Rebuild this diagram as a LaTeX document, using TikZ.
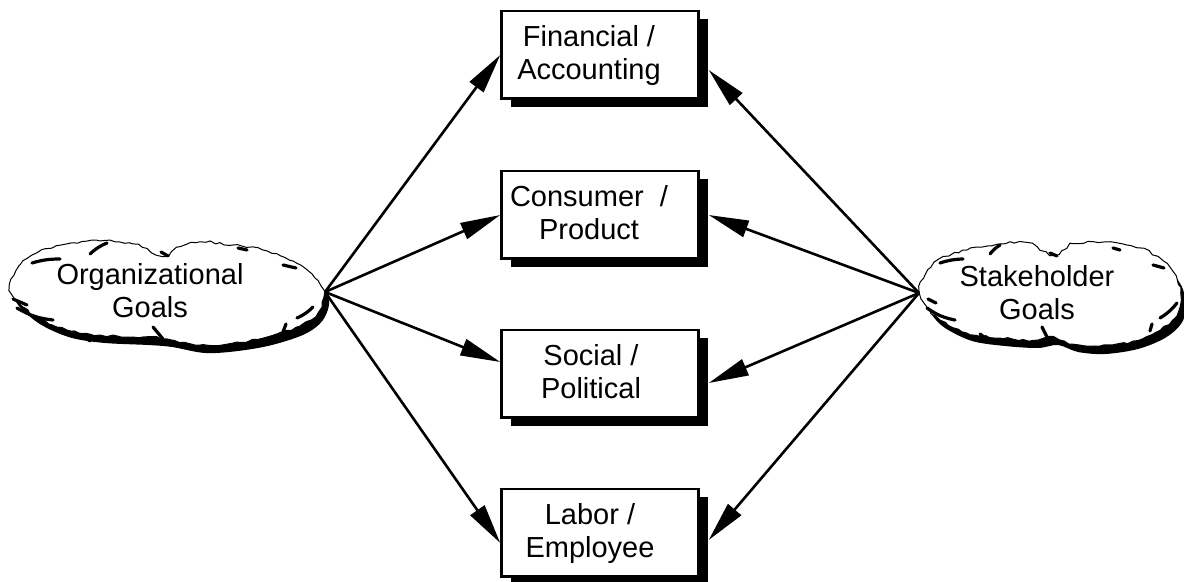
\documentclass[tikz,border=0pt]{standalone}
\usepackage{fontspec}
\setmainfont{Liberation Sans}
\usetikzlibrary{arrows.meta,shadows,decorations.pathmorphing}
\newcommand{\twoline}[2]{\begin{tabular}[t]{@{}c@{}}#1\\#2\end{tabular}}
\begin{document}
\begin{tikzpicture}[x=0.5pt,y=-0.5pt,
  font=\fontsize{14.5pt}{16.5pt}\selectfont,
  goalbox/.style={draw,line width=1.25pt,fill=white,minimum width=98.5pt,
    minimum height=43.75pt,inner sep=0pt,
    drop shadow={shadow xshift=4.5pt,shadow yshift=-4pt,fill=black,opacity=1}},
  boxtext/.style={anchor=base,inner sep=0pt},
  link/.style={line width=1.3pt,-{Triangle[length=20pt,width=8.5pt]}},
  cloudshade/.style={fill=black},
  cloudbody/.style={fill=white,draw,line width=0.5pt,decorate,
    decoration={random steps,segment length=2.5pt,amplitude=0.6pt}},
  cloudmark/.style={line width=1.6pt,line cap=round}]
\pgfmathsetseed{7}
\useasboundingbox (0,0) rectangle (1184,582);

% ---------- left cloud: Organizational Goals ----------
\begin{scope}[shift={(5,8)}]
\fill[cloudshade] plot[smooth cycle,tension=0.55] coordinates {
  (10,290) (20,265) (37,253) (67,244) (100,241) (133,244) (163,256) (177,248)
  (200,242) (233,245) (267,251) (293,261) (312,274) (324,292) (318,312)
  (300,326) (267,337) (233,343) (200,345) (167,339) (143,337) (100,335)
  (67,330) (40,319) (22,306)};
\end{scope}
\path[cloudbody] plot[smooth cycle,tension=0.55] coordinates {
  (10,290) (20,265) (37,253) (67,244) (100,241) (133,244) (163,256) (177,248)
  (200,242) (233,245) (267,251) (293,261) (312,274) (324,292) (318,312)
  (300,326) (267,337) (233,343) (200,345) (167,339) (143,337) (100,335)
  (67,330) (40,319) (22,306)};
\draw[cloudmark] (90,254) to[bend left=10] (107,243);
\draw[cloudmark] (32,263) to[bend left=8] (60,259);
\draw[cloudmark] (161,252) -- (168,256);
\draw[cloudmark] (238,248) -- (247,250);
\draw[cloudmark] (283,265) -- (296,268);
\draw[cloudmark] (297,318) to[bend right=10] (313,307);
\draw[cloudmark] (283,332) -- (286,324);
\draw[cloudmark] (153,327) -- (163,339);
\draw[cloudmark] (81,334) -- (90,341);
\draw[cloudmark] (13,299) -- (27,305);
\draw[cloudmark] (17,308) to[bend right=12] (53,320);
\node[boxtext] (orgT) at (150,285) {\twoline{Organizational}{Goals}};
\coordinate (orgTip) at (325,292);

% ---------- right cloud: Stakeholder Goals ----------
\begin{scope}[shift={(5,8)}]
\fill[cloudshade] plot[smooth cycle,tension=0.55] coordinates {
  (920,292) (925,275) (940,259) (967,250) (1000,244) (1027,243) (1053,255)
  (1073,244) (1107,242) (1140,248) (1163,261) (1177,279) (1181,300)
  (1176,316) (1160,330) (1133,341) (1100,346) (1073,344) (1053,337)
  (1033,340) (1000,338) (967,333) (940,320) (927,307)};
\end{scope}
\path[cloudbody] plot[smooth cycle,tension=0.55] coordinates {
  (920,292) (925,275) (940,259) (967,250) (1000,244) (1027,243) (1053,255)
  (1073,244) (1107,242) (1140,248) (1163,261) (1177,279) (1181,300)
  (1176,316) (1160,330) (1133,341) (1100,346) (1073,344) (1053,337)
  (1033,340) (1000,338) (967,333) (940,320) (927,307)};
\draw[cloudmark] (990,254) to[bend left=10] (1000,245);
\draw[cloudmark] (940,263) to[bend left=8] (963,259);
\draw[cloudmark] (1050,253) -- (1057,256);
\draw[cloudmark] (1113,248) -- (1120,250);
\draw[cloudmark] (1153,265) -- (1164,268);
\draw[cloudmark] (1160,318) to[bend right=10] (1177,303);
\draw[cloudmark] (1150,331) -- (1152,324);
\draw[cloudmark] (1042,327) -- (1048,339);
\draw[cloudmark] (980,334) -- (989,341);
\draw[cloudmark] (928,299) -- (936,303);
\draw[cloudmark] (927,308) to[bend right=12] (955,320);
\node[boxtext] (stkT) at (1037,287) {\twoline{Stakeholder}{Goals}};
\coordinate (stkTip) at (919,293);

% ---------- goal category boxes ----------
\node[goalbox] (fin) at (600,55) {};
\node[goalbox] (con) at (600,215) {};
\node[goalbox] (soc) at (600,374) {};
\node[goalbox] (lab) at (600,533) {};
\node[boxtext] (finT) at (589,47) {\twoline{Financial /}{Accounting}};
\node[boxtext] (conT) at (589,207) {\twoline{Consumer\ \ /}{Product}};
\node[boxtext] (socT) at (591,366) {\twoline{Social /}{Political}};
\node[boxtext] (labT) at (590,525) {\twoline{Labor /}{Employee}};

% ---------- connectors ----------
\draw[link] (orgTip) -- (fin.west);
\draw[link] (orgTip) -- (con.west);
\draw[link] (orgTip) -- ([yshift=6pt]soc.west);
\draw[link] (orgTip) -- ([yshift=-5pt]lab.west);
\draw[link] (stkTip) -- ([xshift=4.5pt,yshift=-7.5pt]fin.east);
\draw[link] (stkTip) -- ([xshift=4.5pt]con.east);
\draw[link] (stkTip) -- ([xshift=4.5pt,yshift=-4.5pt]soc.east);
\draw[link] (stkTip) -- ([xshift=4.5pt,yshift=-3.5pt]lab.east);
\end{tikzpicture}
\end{document}
